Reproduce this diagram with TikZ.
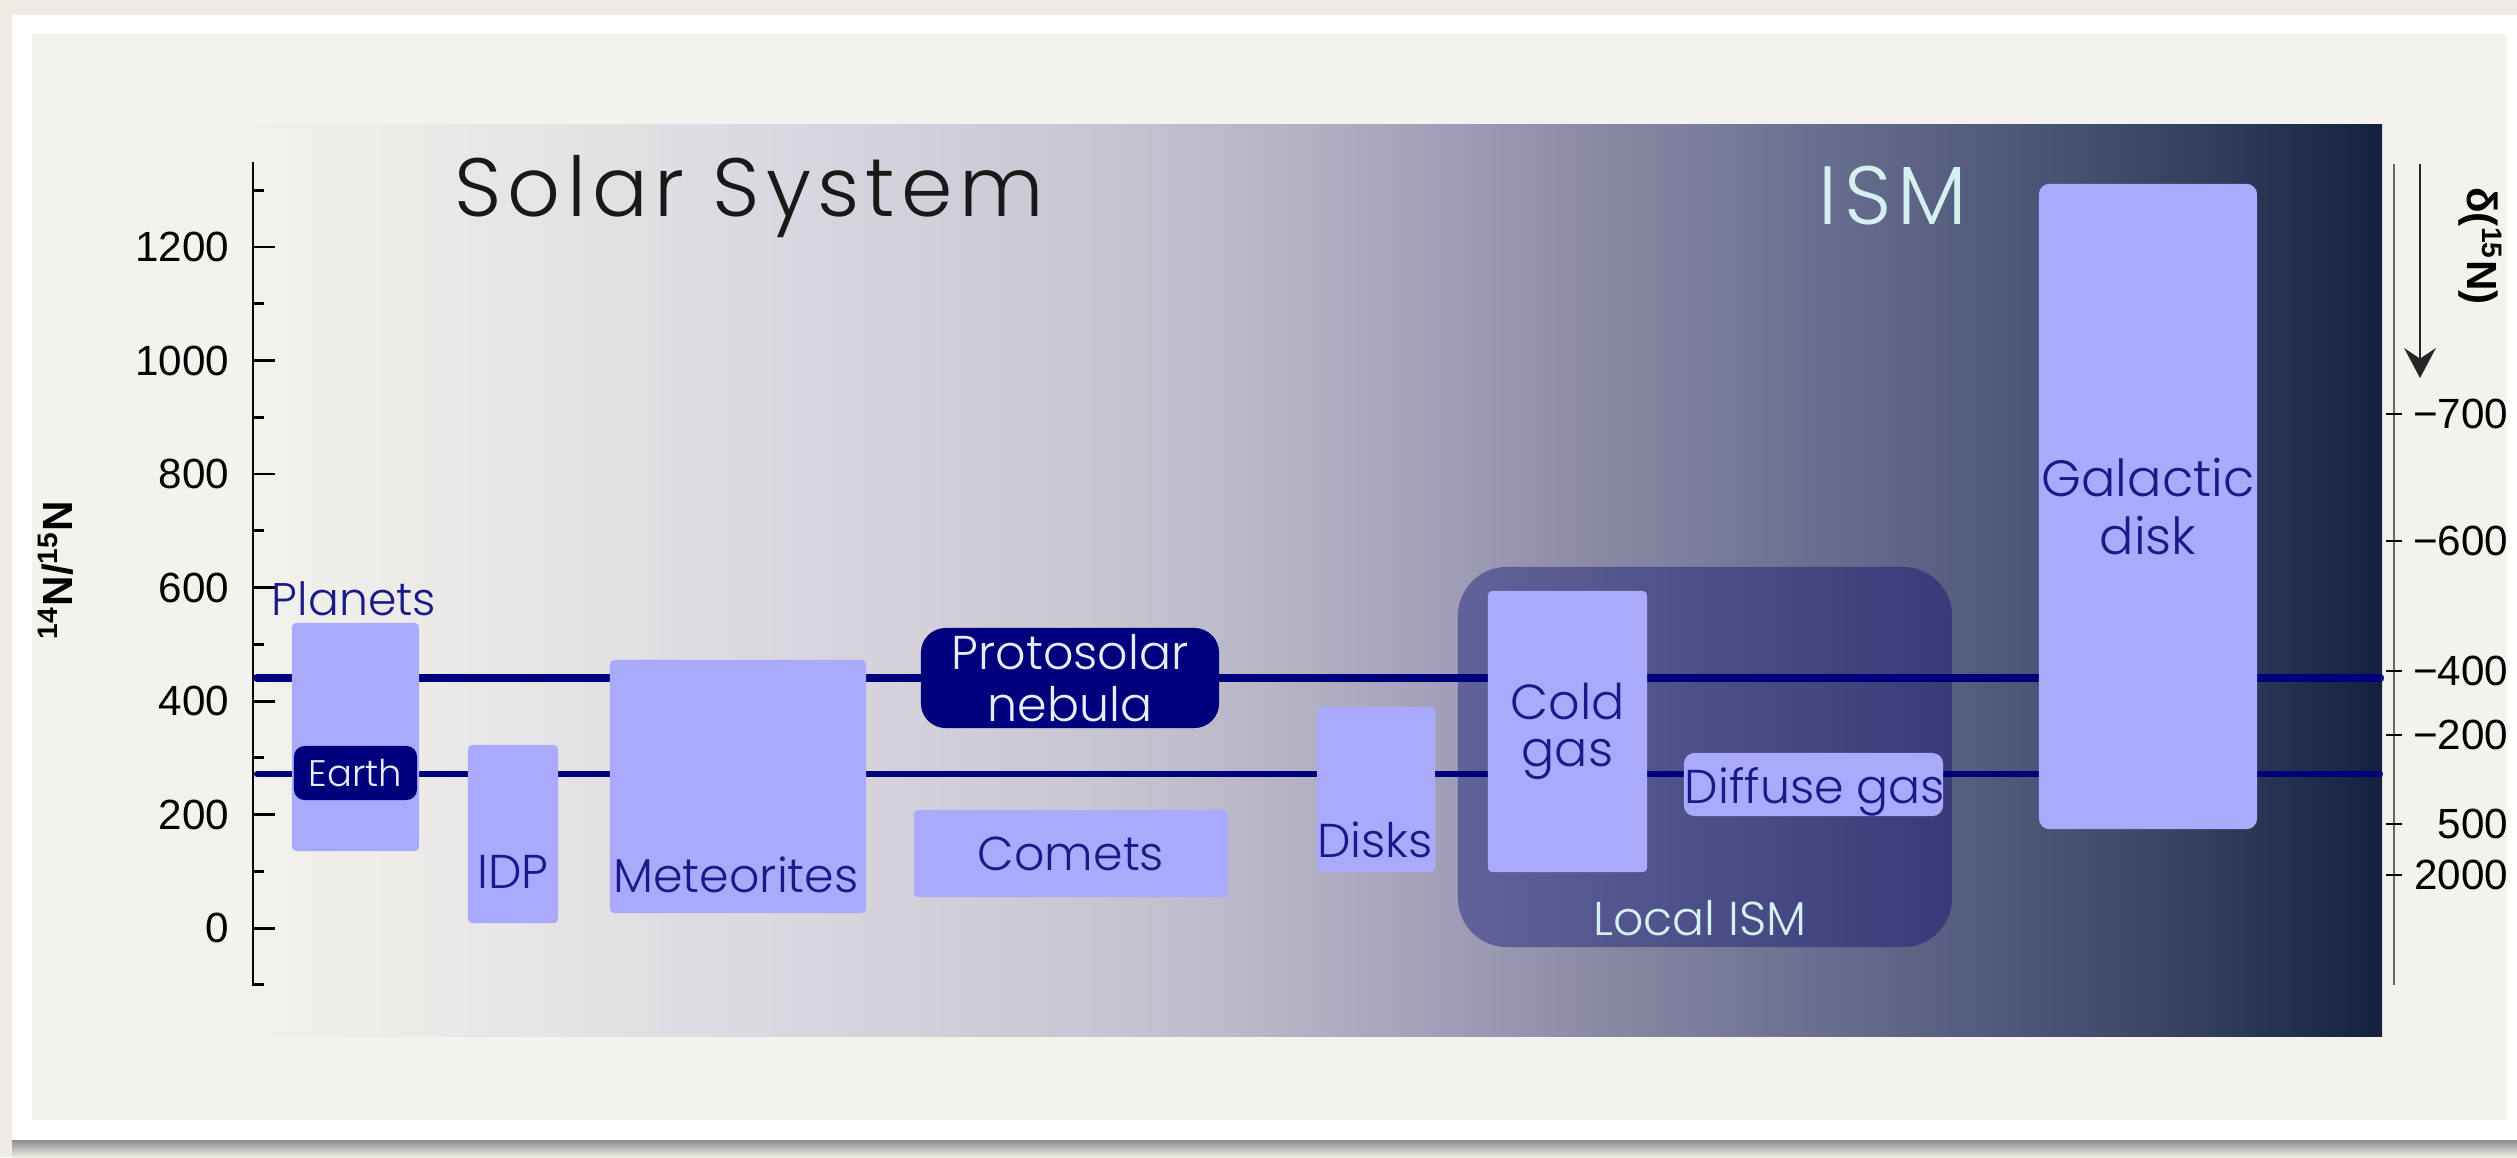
\documentclass[tikz,border=0pt]{standalone}
\usepackage{fontspec}
\setmainfont{Liberation Sans}
\newfontfamily\gf{Poppins Light}
\newfontfamily\gft{Poppins Light}[LetterSpace=7.5]
\usetikzlibrary{arrows.meta}
\definecolor{outerc}{RGB}{238,235,228}
\definecolor{cardc}{RGB}{244,242,236}
\definecolor{shadowc}{RGB}{140,140,140}
\definecolor{navyc}{RGB}{0,0,125}
\definecolor{boxc}{RGB}{170,170,252}
\definecolor{labc}{RGB}{25,25,135}
\definecolor{lightc}{RGB}{212,240,240}
\definecolor{wtext}{RGB}{232,236,255}
\definecolor{locl}{RGB}{97,98,152}
\definecolor{locr}{RGB}{56,59,120}
\definecolor{g0}{RGB}{244,242,236}
\definecolor{g1}{RGB}{232,230,229}
\definecolor{g2}{RGB}{217,214,223}
\definecolor{g3}{RGB}{201,198,211}
\definecolor{g4}{RGB}{180,177,196}
\definecolor{g5}{RGB}{160,157,183}
\definecolor{g6}{RGB}{138,137,164}
\definecolor{g7}{RGB}{108,113,145}
\definecolor{g8}{RGB}{80,89,124}
\definecolor{g9}{RGB}{52,63,94}
\definecolor{g10}{RGB}{19,32,62}
\pgfdeclarehorizontalshading{panelshade}{100bp}{color(0bp)=(g0); color(25bp)=(g0); color(31.07bp)=(g1); color(38.07bp)=(g2); color(45.07bp)=(g3); color(49.74bp)=(g4); color(53.25bp)=(g5); color(56.75bp)=(g6); color(61.41bp)=(g7); color(66.08bp)=(g8); color(70.75bp)=(g9); color(75bp)=(g10); color(100bp)=(g10)}
\tikzset{
  databox/.style={fill=boxc, rounded corners=1.2pt, inner sep=0pt, align=center, text=labc, font=\gf\fontsize{13.5}{15}\selectfont},
  navybox/.style={fill=navyc, inner sep=0pt, align=center, text=wtext},
  localbox/.style={left color=locl, right color=locr, rounded corners=14pt, inner sep=0pt},
  lab/.style={text=labc, inner sep=0pt, font=\gf\fontsize{13.5}{15}\selectfont},
  tlab/.style={inner sep=0pt, font=\fontsize{12}{14}\selectfont},
  axisline/.style={line width=0.85pt, black},
  raxis/.style={line width=0.7pt, black!60},
  rtick/.style={line width=0.6pt, black},
  line1/.style={line width=2.4pt, navyc, line cap=round},
  line2/.style={line width=1.7pt, navyc, line cap=round},
}
\begin{document}
\begin{tikzpicture}[x=0.01cm, y=-0.01cm]
\useasboundingbox (0,0) rectangle (2517,1157);
% background card
\fill[outerc] (0,0) rectangle (2517,1157);
\fill[white] (12,15) rectangle (2517,1140);
\fill[cardc] (32,34) rectangle (2507,1120);
\shade[top color=shadowc, bottom color=outerc] (12,1140) rectangle (2517,1157);
% gradient panel
\shade[shading=panelshade] (240,124) rectangle (2382,1036);
% titles
\node[font=\gft\fontsize{23.5}{26}\selectfont, text=black!90, anchor=base, inner sep=0pt] (title) at (749,216) {Solar System};
\node[font=\gft\fontsize{23.5}{26}\selectfont, text=lightc, anchor=base, inner sep=0pt] (ism) at (1893,224) {ISM};
% local ISM region
\node[localbox, minimum width=4.94cm, minimum height=3.80cm] (localism) at (1705,757) {};
\node[text=lightc, inner sep=0pt, anchor=base, font=\gf\fontsize{13.5}{15}\selectfont] (localisml) at (1700,935) {Local ISM};
% left axis
\coordinate (axtop) at (253,162);
\coordinate (axbot) at (253,986);
\draw[axisline] (axtop) -- (axbot);
\foreach \v in {0,200,...,1200} {
  \draw[axisline] (253,{928-0.5675*\v}) -- ++(22,0);
  \node[tlab, anchor=east] (ll\v) at (230,{928-0.5675*\v}) {\v};
}
\foreach \v in {-100,100,300,...,1300} {
  \draw[axisline] (253,{928-0.5675*\v}) -- ++(11,0);
}
\node[rotate=90, inner sep=0pt, font=\bfseries\fontsize{12}{14}\selectfont] (ylab) at (56,570) {\textsuperscript{14}N/\textsuperscript{15}N};
% reference lines
\coordinate (l1s) at (257,678);
\coordinate (l1e) at (2380,678);
\coordinate (l2s) at (257,774);
\coordinate (l2e) at (2380,774);
\draw[line1] (l1s) -- (l1e);
\draw[line2] (l2s) -- (l2e);
% boxes
\node[databox, minimum width=1.27cm, minimum height=2.28cm] (planets) at (355.5,737) {};
\node[lab, anchor=base, font=\gf\fontsize{13}{15}\selectfont] (planetsl) at (354,615) {Planets};
\node[navybox, rounded corners=3pt, minimum width=1.23cm, minimum height=0.54cm, font=\gf\fontsize{10.5}{12}\selectfont] (earth) at (355.5,773) {Earth};
\node[databox, minimum width=0.90cm, minimum height=1.78cm] (idp) at (513,834) {};
\node[lab, anchor=base] (idpl) at (513,888) {IDP};
\node[databox, minimum width=2.56cm, minimum height=2.53cm] (met) at (738,786.5) {};
\node[lab, anchor=base] (metl) at (736,892) {Meteorites};
\node[navybox, rounded corners=7pt, minimum width=2.98cm, minimum height=1.00cm, font=\gf\fontsize{13.5}{14.8}\selectfont] (proto) at (1070,678) {Protosolar\\nebula};
\node[databox, minimum width=3.14cm, minimum height=0.87cm] (comets) at (1071,853.5) {Comets};
\node[databox, minimum width=1.18cm, minimum height=1.65cm] (disks) at (1376,789.5) {};
\node[lab, anchor=base] (disksl) at (1375,857) {Disks};
\node[databox, minimum width=1.59cm, minimum height=2.81cm, font=\gf\fontsize{14}{13.4}\selectfont] (cold) at (1567.5,731.5) {Cold\\gas};
\node[databox, rounded corners=3pt, minimum width=2.59cm, minimum height=0.63cm] (diffuse) at (1813.5,784.5) {};
\node[lab, anchor=base] (diffusel) at (1815,803) {Diffuse gas};
\node[databox, rounded corners=3pt, minimum width=2.18cm, minimum height=6.45cm, font=\gf\fontsize{14.5}{16.5}\selectfont] (galactic) at (2148,506.5) {Galactic\\disk};
% right axis
\coordinate (rtop) at (2394,164);
\coordinate (rbot) at (2394,985);
\draw[raxis] (rtop) -- (rbot);
\coordinate (arrs) at (2420,164);
\coordinate (arre) at (2420,378);
\draw[line width=0.6pt, black!85, -{Stealth[length=8.5pt, width=9pt, inset=3pt]}] (arrs) -- (arre);
\foreach \yy/\lab in {414/−700, 541/−600, 671/−400, 735/−200, 824/500, 875/2000} {
  \draw[rtick] (2386,\yy) -- (2402,\yy);
  \node[tlab, anchor=east] (rl\yy) at (2509,\yy) {\lab};
}
\node[rotate=-90, inner sep=0pt, font=\bfseries\fontsize{12}{14}\selectfont] (dlab) at (2480,246) {δ(\textsuperscript{15}N)};
\end{tikzpicture}
\end{document}
